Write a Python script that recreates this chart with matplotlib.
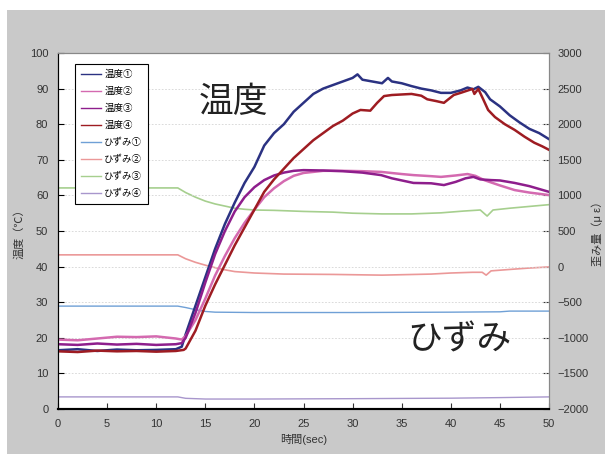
import matplotlib.pyplot as plt
from matplotlib.patches import Rectangle

plt.rcParams['font.family'] = ['Liberation Sans', 'Noto Sans CJK JP', 'DejaVu Sans']

# temperature series (deg C), time in sec
t_temp1 = [0, 2, 4, 6, 8, 10, 12, 12.6, 13, 14, 15, 16, 17, 18, 19, 20, 21, 22, 23, 24, 25,
           26, 27, 28, 29, 30, 30.5, 31, 32, 33, 33.6, 34, 35, 36, 37, 38, 39, 40, 41, 41.7,
           42.3, 42.8, 43.5, 44, 45, 46, 47, 48, 49, 50]
temp1 = [16.5, 16.8, 16.3, 16.7, 16.5, 16.6, 16.8, 17.5, 21, 29, 37, 45, 52, 58, 63.5, 68, 74, 77.5,
         80, 83.5, 86, 88.5, 90, 91, 92, 93, 94, 92.5, 92, 91.5, 93, 92, 91.5, 90.7, 90, 89.5,
         88.8, 88.8, 89.5, 90.3, 89.8, 90.5, 89, 87, 85, 82.5, 80.5, 78.7, 77.5, 75.8]

t_temp2 = [0, 2, 4, 6, 8, 10, 12, 12.6, 13, 14, 15, 16, 17, 18, 19, 20, 21, 22, 23, 24, 25, 27,
           29, 31, 32.9, 35, 36.2, 38, 39, 40.5, 41.7, 42.5, 43.4, 45, 46.5, 48, 50]
temp2 = [19.5, 19.3, 19.8, 20.3, 20.2, 20.4, 19.8, 19.5, 20.5, 25, 31, 37.5, 43, 48, 52.3, 56, 59.5,
         62, 64, 65.5, 66.3, 66.9, 66.9, 66.8, 66.6, 66, 65.7, 65.4, 65.2, 65.6, 66, 65.5, 64.3,
         62.8, 61.5, 60.8, 60.1]

t_temp3 = [0, 2, 4, 6, 8, 10, 12, 12.6, 13, 14, 15, 16, 17, 18, 19, 20, 21, 22, 23, 24, 25, 27,
           29, 31, 32.9, 34, 36.2, 38, 39.3, 40.5, 41.5, 42.3, 43, 44.1, 45, 46.5, 48, 50]
temp3 = [18.2, 18.0, 18.4, 18.1, 18.3, 18.0, 18.2, 18.5, 20, 27, 35.5, 43.5, 50, 55.5, 59.5, 62.3,
         64.3, 65.6, 66.4, 66.9, 67.1, 67, 66.8, 66.4, 65.7, 64.8, 63.5, 63.4, 62.9, 63.8, 64.8,
         65.2, 64.5, 64.3, 64.2, 63.5, 62.6, 61]

t_temp4 = [0, 2, 4, 6, 8, 10, 12, 12.8, 13, 14, 15, 16, 17, 18, 19, 20, 21, 22, 23, 24, 25, 26,
           27, 28, 29, 30, 30.8, 31.8, 32.5, 33.2, 34, 36, 37, 37.6, 38.5, 39.3, 40.3, 41, 42.2,
           42.4, 42.8, 43.3, 43.8, 44.5, 45.5, 46.5, 47.5, 48.5, 49.3, 50]
temp4 = [16.2, 16.0, 16.4, 16.2, 16.3, 16.1, 16.3, 16.6, 17, 22, 29, 35, 40.5, 46, 51, 56, 61, 64.5,
         67.5, 70.5, 73, 75.5, 77.5, 79.5, 81, 83, 84, 83.8, 86, 87.9, 88.2, 88.5, 88, 87, 86.5,
         86, 88.2, 88.8, 89.9, 88.5, 89.9, 87, 84, 82, 80, 78.4, 76.5, 74.8, 73.8, 72.8]

# strain series (micro strain)
t_str1 = [0, 12.2, 13, 14, 15, 16, 20, 30, 40, 45, 46, 50]
str1 = [-555, -555, -575, -605, -630, -640, -645, -645, -640, -635, -625, -625]

t_str2 = [0, 12.2, 13, 14, 15, 16, 17, 18, 20, 23, 28, 33, 38, 40, 42.2, 43.2, 43.6, 44.1, 46, 48, 50]
str2 = [165, 165, 110, 60, 20, -15, -45, -70, -90, -105, -110, -120, -105, -90, -80, -80, -120,
        -60, -40, -20, -5]

t_str3 = [0, 12.2, 13, 14, 15, 16, 17, 18, 19, 20, 22, 25, 28, 30, 33, 36, 39, 41.3, 43, 43.7,
          44.3, 46, 48, 50]
str3 = [1105, 1105, 1040, 975, 920, 880, 850, 820, 805, 795, 790, 775, 765, 750, 740, 740, 755,
        780, 795, 710, 795, 820, 845, 870]

t_str4 = [0, 12.2, 13, 15, 20, 30, 40, 45, 50]
str4 = [-1830, -1830, -1850, -1860, -1860, -1855, -1848, -1840, -1830]

fig = plt.figure(figsize=(6.05, 4.54), dpi=100)
fig.patches.append(Rectangle((7 / 605, 0), 1, (454 - 10) / 454, transform=fig.transFigure,
                             facecolor='#c9c9c9', edgecolor='none', zorder=-10))

ax1 = fig.add_axes([58 / 605, 1 - 409 / 454, (549 - 58) / 605, (409 - 53) / 454])
ax2 = ax1.twinx()

l1, = ax1.plot(t_temp1, temp1, color='#2b3282', lw=1.8, label='温度①')
l2, = ax1.plot(t_temp2, temp2, color='#d46ab0', lw=1.8, label='温度②')
l3, = ax1.plot(t_temp3, temp3, color='#8e1e8c', lw=1.8, label='温度③')
l4, = ax1.plot(t_temp4, temp4, color='#9e1c22', lw=1.8, label='温度④')

s1, = ax2.plot(t_str1, str1, color='#6fa0d6', lw=1.0, label='ひずみ①')
s2, = ax2.plot(t_str2, str2, color='#eb9898', lw=1.2, label='ひずみ②')
s3, = ax2.plot(t_str3, str3, color='#a6cf8e', lw=1.2, label='ひずみ③')
s4, = ax2.plot(t_str4, str4, color='#a896cc', lw=1.0, label='ひずみ④')

# strain lines behind temperature lines, white plot area on the back axes
ax1.set_zorder(2)
ax1.patch.set_visible(False)
ax2.set_zorder(1)
ax2.patch.set_visible(True)
ax2.patch.set_facecolor('white')

ax1.set_xlim(0, 50)
ax1.set_ylim(0, 100)
ax2.set_ylim(-2000, 3000)
ax1.set_xticks(range(0, 51, 5))
ax1.set_yticks(range(0, 101, 10))
ax2.set_yticks(range(-2000, 3001, 500))
ax2.set_yticklabels([str(v).replace('-', '−') for v in range(-2000, 3001, 500)])

ax1.grid(axis='y', color='#d4d4d4', linestyle=(0, (2, 2)), lw=0.6)
ax1.set_axisbelow(True)

ax1.tick_params(axis='both', direction='in', length=4, labelsize=8, colors='#333333', pad=7)
ax1.tick_params(axis='y', color='black')
ax2.tick_params(axis='y', direction='in', length=4, labelsize=8, colors='#333333', pad=6)

for ax in (ax1, ax2):
    ax.spines['left'].set_color('black')
    ax.spines['bottom'].set_color('black')
    ax.spines['bottom'].set_linewidth(1.5)
    ax.spines['top'].set_color('#888888')
    ax.spines['right'].set_color('#888888')

ax1.set_xlabel('時間(sec)', fontsize=8, color='#333333', labelpad=4)
ax1.set_ylabel('温度（℃）', fontsize=8, color='#333333', labelpad=4)
ax2.set_ylabel('歪み量（μ ε）', fontsize=8, color='#333333', labelpad=2, rotation=90)

ax1.text(17.9, 86, '温度', fontsize=25, color='#222222', ha='center', va='center')
ax1.text(40.9, 19.4, 'ひずみ', fontsize=25, color='#222222', ha='center', va='center')

leg = ax1.legend(handles=[l1, l2, l3, l4, s1, s2, s3, s4], loc='upper left',
                 bbox_to_anchor=(75 / 605, 1 - 64 / 454), bbox_transform=fig.transFigure,
                 fontsize=6.8, frameon=True, fancybox=False, borderaxespad=0,
                 handlelength=2.2, handletextpad=0.3, labelspacing=0.8, borderpad=0.6)
leg.get_frame().set_edgecolor('black')
leg.get_frame().set_linewidth(0.8)
leg.get_frame().set_alpha(1)
for h in leg.legend_handles:
    h.set_linewidth(1.0)

fig.savefig('out.png', dpi=100, facecolor='white')
